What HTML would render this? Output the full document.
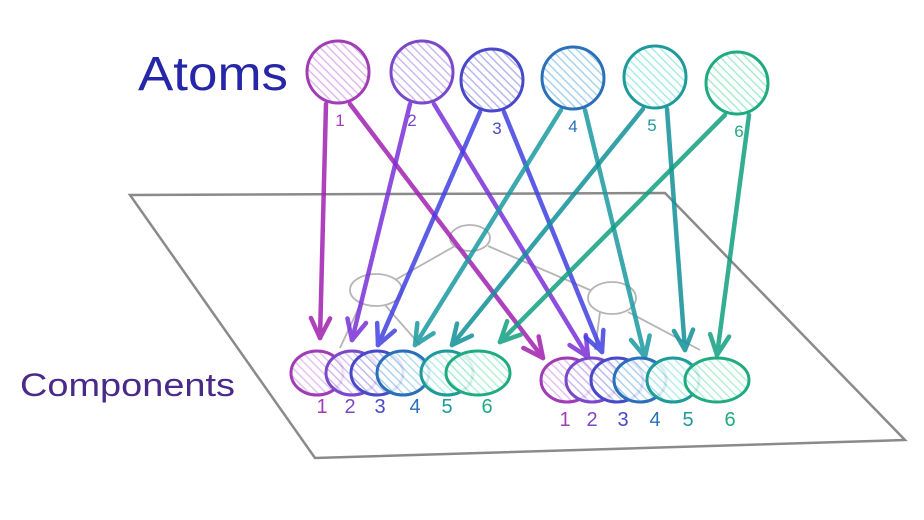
<!DOCTYPE html>
<html><head><meta charset="utf-8">
<style>
html,body{margin:0;padding:0;background:#fff;}
svg{display:block;}
text{font-family:"Liberation Sans",sans-serif;}
</style></head>
<body>
<svg id="c" width="924" height="520" viewBox="0 0 924 520">
<defs id="defs"></defs>
<polygon points="130,195 665,193 905,440 315,458" fill="none" stroke="#8a8a8a" stroke-width="2.5"/>
<g fill="none" stroke="#b5b5b5" stroke-width="1.8">
<ellipse cx="470" cy="238" rx="20" ry="13"/>
<ellipse cx="376" cy="290" rx="26" ry="16"/>
<ellipse cx="612" cy="298" rx="24" ry="16"/>
<line x1="455" y1="246" x2="395" y2="280"/>
<line x1="488" y1="246" x2="590" y2="290"/>
<line x1="360" y1="305" x2="340" y2="348"/>
<line x1="385" y1="305" x2="420" y2="345"/>
<line x1="600" y1="312" x2="595" y2="350"/>
<line x1="628" y1="312" x2="700" y2="350"/>
</g>
<text x="138" y="90" font-size="48" fill="#2626a8" textLength="150" lengthAdjust="spacingAndGlyphs">Atoms</text>
<text x="20" y="396" font-size="32" fill="#4a2a88" textLength="215" lengthAdjust="spacingAndGlyphs">Components</text>
<g id="arrows"></g>
<g id="comps"></g>
<g id="atoms"></g>
</svg>
<script>
const atomIds=[1,2,3,4,5,6];
const atomColors=["#a03cb4","#7a48c8","#4848c8","#2a70b8","#1f9a9a","#1faa80"];
const arrowColors=["#a020b0","#7a30d8","#4040e0","#1a9aa0","#10909a","#10a080"];
const fillColors=["#e2b8ee","#cbbaf0","#b8b8f0","#a8d4f0","#a8ece4","#a8ecd0"];
const atomX=[338,422,492,573,655,737];
const atomY=[72,72,80,78,77,83];
const leftCX=[317,352,377,403,447,478];
const rightCX=[567,592,617,640,673,717];
const leftEnd=[[320,338],[352,340],[378,345],[415,345],[452,345],[500,342]];
const rightEnd=[[543,358],[588,357],[602,352],[645,357],[685,350],[717,355]];
const NS="http://www.w3.org/2000/svg";
const defs=document.getElementById('defs');
function mk(t,a){const e=document.createElementNS(NS,t);for(const k in a)e.setAttribute(k,a[k]);return e;}
atomIds.forEach((id,i)=>{
  const p=mk('pattern',{id:'h'+i,width:6,height:6,patternUnits:'userSpaceOnUse',patternTransform:'rotate(-45)'});
  p.appendChild(mk('rect',{width:6,height:6,fill:'#fff'}));
  p.appendChild(mk('line',{x1:0,y1:0,x2:0,y2:6,stroke:fillColors[i],'stroke-width':3}));
  defs.appendChild(p);
});
const ag=document.getElementById('arrows');
atomIds.forEach((id,i)=>{
  [leftEnd[i],rightEnd[i]].forEach((e,j)=>{
    const sx=atomX[i]+(j===0?-12:12), sy=atomY[i]+32;
    const g=mk('g',{stroke:arrowColors[i],'stroke-width':4.5,fill:'none','stroke-linecap':'round',opacity:0.85});
    
    
    g.appendChild(mk('line',{x1:sx,y1:sy,x2:e[0],y2:e[1]}));
    const ang=Math.atan2(e[1]-sy,e[0]-sx);
    [0.45,-0.45].forEach(d=>{
      const a=ang+Math.PI+d;
      g.appendChild(mk('line',{x1:e[0],y1:e[1],x2:e[0]+22*Math.cos(a),y2:e[1]+22*Math.sin(a)}));
    });
    ag.appendChild(g);
  });
});
const cg=document.getElementById('comps');
atomIds.forEach((id,i)=>{
  [[leftCX[i],373,413,[322,350,380,415,447,487][i],'left'],[rightCX[i],380,426,[565,592,623,655,688,730][i],'right']].forEach(c=>{
    const el=mk('ellipse',{cx:c[0],cy:c[1],rx:i===5?32:26,ry:22,fill:'url(#h'+i+')','fill-opacity':0.85,stroke:atomColors[i],'stroke-width':3});
    
    
    cg.appendChild(el);
    const t=mk('text',{x:c[3],y:c[2],'font-size':20,fill:atomColors[i],'text-anchor':'middle'});
    t.textContent=id;
    
    
    cg.appendChild(t);
  });
});
const atg=document.getElementById('atoms');
atomIds.forEach((id,i)=>{
  const el=mk('circle',{cx:atomX[i],cy:atomY[i],r:31,fill:'url(#h'+i+')',stroke:atomColors[i],'stroke-width':3});
  
  
  atg.appendChild(el);
  const t=mk('text',{x:atomX[i]+[2,-10,5,0,-3,2][i],y:atomY[i]+54,'font-size':17,fill:atomColors[i],'text-anchor':'middle'});
  t.textContent=id;
  
  
  atg.appendChild(t);
});
</script>
</body></html>
